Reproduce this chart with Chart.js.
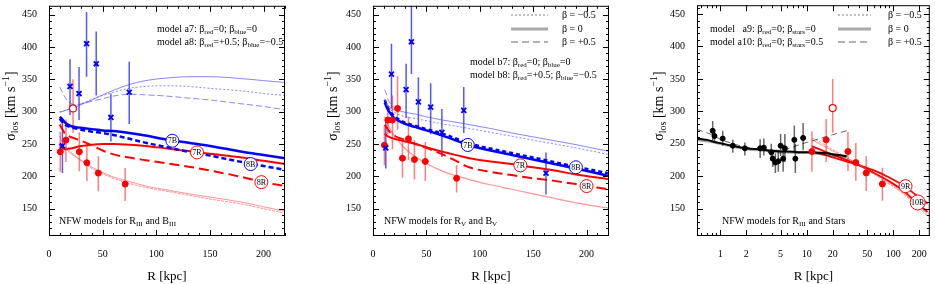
<!DOCTYPE html>
<html>
<head>
<meta charset="utf-8">
<script src="https://cdn.jsdelivr.net/npm/chart.js@4.4.1/dist/chart.umd.min.js"></script>
<style>
  body { margin: 0; background: #fff; }
  #wrap { position: relative; width: 935px; height: 284px; }
  #wrap canvas { position: absolute; left: 0; top: 0; }
</style>
</head>
<body>
<div id="wrap">
  <canvas id="p1" width="935" height="284"></canvas>
  <canvas id="p2" width="935" height="284"></canvas>
  <canvas id="p3" width="935" height="284"></canvas>
</div>
<script>
const FONT = '"Liberation Serif", "DejaVu Serif", serif';

// axes
const Y_MIN = 107.8, Y_MAX = 463.6;
const Y_TICKS = [150, 200, 250, 300, 350, 400, 450];
const X_TICKS_LIN = [0, 50, 100, 150, 200];
const X_TICKS_LOG = [1, 2, 5, 10, 20, 50, 100, 200];

// ---- panel 1: NFW models for R_III and B_III ----
const p1BlueR   = [12.5, 19.6, 28, 35, 44, 57.7, 74.8];
const p1BlueSig = [247, 339, 328, 405, 374, 291, 330];
const p1BlueLo  = [205, 295, 287, 354, 325, 254, 281];
const p1BlueHi  = [285, 381, 369, 454, 424, 328, 377];

const redSig = [238, 256, 238, 221, 205, 188];
const redLo  = [207, 222, 208, 193, 177, 162];
const redHi  = [269, 288, 268, 251, 231, 213];
const p1RedR = [10.5, 15.8, 28.3, 35.3, 46, 71];
const openSig = [305], openLo = [267], openHi = [350];
const p1OpenR = [22.4];

const g1 = [10, 12, 15, 20, 25, 30, 40, 50, 60, 75, 90, 110, 130, 150, 180, 200, 220];
const p1ThinBlueSolid  = [300, 300, 302, 304, 307, 311, 318, 326, 333, 342, 348, 352, 354, 354, 351, 348, 345];
const p1ThinBlueDotted = [299, 300, 302, 305, 308, 312, 319, 325, 330, 336, 339, 340, 339, 336, 332, 328, 325];
const p1ThinBlueDashed = [338, 332, 322, 313, 311, 312, 316, 320, 324, 327, 326, 324, 321, 318, 312, 308, 303];
const p1Model7B = [292, 289, 283, 278, 276, 275, 273, 271, 270, 267, 263, 257, 252, 247, 238, 233, 228];
const p1Model8B = [289, 285, 280, 276, 274, 272, 269, 267, 264, 258, 252, 245, 238, 232, 222, 216, 210];
const p1Model7R = [250, 245, 242, 243, 245, 247, 249, 250, 250, 249, 247, 243, 239, 235, 229, 224, 219];
const p1Model8R = [280, 274, 266, 261, 258, 255, 248, 240, 234, 229, 225, 220, 215, 209, 199, 191, 185];
const p1ThinRedA = [252, 249, 244, 236, 230, 225, 214, 206, 199, 192, 185, 179, 173, 168, 160, 153, 146];
const p1ThinRedB = [262, 255, 247, 238, 231, 224, 212, 204, 197, 189, 183, 177, 171, 165, 157, 150, 143];

// ---- panel 2: NFW models for R_V and B_V ----
const p2BlueR   = [12, 17.3, 31, 36, 42.5, 54, 64.5, 85, 162];
const p2BlueSig = [244, 358, 334, 408, 315, 307, 268, 302, 205];
const p2BlueLo  = [212, 305, 290, 358, 273, 265, 230, 267, 172];
const p2BlueHi  = [290, 405, 374, 470, 353, 344, 304, 338, 237];

const p2RedR   = [10.7, 13.9, 18.2, 23, 27.6, 33.2, 38.8, 49, 78.3];
const p2RedSig = [248, 287, 287, 305, 228, 258, 226, 223, 197];
const p2RedLo  = [217, 265, 242, 272, 198, 225, 195, 193, 175];
const p2RedHi  = [278, 310, 325, 355, 258, 292, 256, 253, 217];

const g2 = [11, 13, 15, 20, 25, 30, 40, 50, 65, 80, 90, 110, 130, 150, 170, 190, 220];
const p2ThinBlueSolid  = [320, 313, 308, 303, 301, 299, 296, 292, 287, 283, 280, 274, 267, 261, 255, 249, 239];
const p2ThinBlueDotted = [318, 310, 305, 299, 295, 292, 289, 286, 281, 277, 274, 268, 262, 256, 250, 244, 234];
const p2ThinBlueDashed = [334, 325, 316, 306, 301, null, null, null, null, null, null, null, null, null, null, null, null];
const p2Model7B = [314, 306, 300, 290, 285, 281, 276, 271, 263, 254, 248, 240, 233, 226, 219, 212, 201];
const p2Model8B = [318, 309, 303, 293, 287, 283, 278, 273, 266, 257, 251, 243, 236, 229, 222, 215, 205];
const p2Model7R = [266, 263, 261, 258, 256, 254, 250, 245, 238, 232, 228, 223, 219, 214, 209, 203, 196];
const p2Model8R = [280, 275, 270, 263, 259, 256, 250, 244, 234, 222, 214, 207, 202, 197, 193, 188, 180];
const p2ThinRed = [292, 284, 276, 263, 252, 243, 230, 220, 208, 200, 195, 187, 180, 173, 166, 159, 151];

// ---- panel 3: NFW models for R_III and Stars ----
const starR   = [0.82, 0.86, 1.07, 1.4, 1.93, 2.9, 3.2, 3.9, 4.05, 4.35, 4.7, 5.0, 5.35, 5.6, 7.2, 7.4, 9.1];
const starSig = [270, 262, 258, 247, 243, 243, 244, 237, 227, 221, 223, 247, 227, 243, 256, 227, 259];
const starLo  = [255, 253, 247, 236, 232, 228, 232, 226, 214, 205, 207, 231, 207, 222, 237, 205, 240];
const starHi  = [285, 268, 270, 256, 252, 257, 258, 250, 241, 235, 240, 265, 248, 265, 278, 250, 282];
const p3RedR  = [11.5, 16.8, 30, 37, 48.8, 75];
const p3OpenR = [20];

const g3 = [0.54, 0.7, 0.8, 1, 1.5, 2, 3, 4, 5, 6, 8, 10, 15, 20, 29];
const p3StarsA9   = [258, 256, 254, 251, 246, 243, 241, 239, 238, 238, 237, 237, 236, 234, 231];
const p3StarsGray = [256, 254, 253, 250, 245, 242, 240, 238, 237, 237, 236, 236, 234, 232, 229];
const p3StarsA10  = [272, 267, 264, 257, 249, 245, 241, 240, 240, 242, 248, 252, 259, 264, 270];
const g3r = [11.5, 15, 20, 30, 40, 60, 90, 130, 180, 250];
const p3Model9R  = [238, 234, 229, 222, 217, 209, 198, 186, 172, 158];
const p3Model10R = [246, 240, 233, 224, 217, 205, 192, 178, 161, 145];
const p3ThinRedA = [256, 248, 239, 227, 218, 204, 190, 175, 158, 142];
const p3ThinRedB = [259, 251, 241, 228, 218, 203, 188, 173, 156, 139];

const BLUE = '#0000ff', THIN_BLUE = 'rgba(70,70,255,0.65)';
const RED = '#ff0000', THIN_RED = 'rgba(255,60,60,0.55)';

function pts(xs, ys) {
  return xs.map((x, i) => ({ x: x, y: ys[i] })).filter(p => p.y != null);
}

function curve(xs, ys, color, width, dash) {
  return {
    data: pts(xs, ys), showLine: true, borderColor: color, borderWidth: width,
    borderDash: dash || [], pointRadius: 0, fill: false,
    cubicInterpolationMode: 'monotone', order: 2
  };
}

function marks(xs, ys, style, color, fill, radius, bw) {
  return {
    data: pts(xs, ys), showLine: false, pointStyle: style, pointRadius: radius,
    pointBorderColor: color, pointBackgroundColor: fill, pointBorderWidth: bw, order: 1
  };
}

// per-panel decorations, read by the plugin below
const PANELS = {
  p1: {
    left: 49, right: 285, xType: 'linear', xMin: 0, xMax: 220, xTicks: X_TICKS_LIN,
    yTitleX: 11,
    errs: [
      { xs: p1BlueR, lo: p1BlueLo, hi: p1BlueHi, color: 'rgba(30,30,255,0.75)' },
      { xs: p1RedR, lo: redLo, hi: redHi, color: 'rgba(255,40,40,0.6)' },
      { xs: p1OpenR, lo: openLo, hi: openHi, color: 'rgba(255,40,40,0.6)' }
    ],
    tags: [
      { t: '7B', x: 115, y: 255, c: BLUE }, { t: '7R', x: 138, y: 237, c: RED },
      { t: '8B', x: 188, y: 219, c: BLUE }, { t: '8R', x: 198, y: 191, c: RED }
    ],
    texts: [
      { x: 157, y: 29, parts: [['model a7: β'], ['red', 1], ['=0; β'], ['blue', 1], ['=0']] },
      { x: 157, y: 42, parts: [['model a8: β'], ['red', 1], ['=+0.5; β'], ['blue', 1], ['=−0.5']] },
      { x: 59, y: 221, parts: [['NFW models for R'], ['III', 1], [' and B'], ['III', 1]] }
    ],
    legend: null
  },
  p2: {
    left: 373, right: 609, xType: 'linear', xMin: 0, xMax: 221, xTicks: X_TICKS_LIN,
    yTitleX: 333,
    errs: [
      { xs: p2BlueR, lo: p2BlueLo, hi: p2BlueHi, color: 'rgba(30,30,255,0.75)' },
      { xs: p2RedR, lo: p2RedLo, hi: p2RedHi, color: 'rgba(255,40,40,0.6)' }
    ],
    tags: [
      { t: '7B', x: 88.8, y: 248.5, c: BLUE }, { t: '7R', x: 138, y: 217, c: RED },
      { t: '8B', x: 190, y: 214, c: BLUE }, { t: '8R', x: 200, y: 185, c: RED }
    ],
    texts: [
      { x: 470, y: 62, parts: [['model b7: β'], ['red', 1], ['=0; β'], ['blue', 1], ['=0']] },
      { x: 470, y: 75.5, parts: [['model b8: β'], ['red', 1], ['=+0.5; β'], ['blue', 1], ['=−0.5']] },
      { x: 384, y: 221, parts: [['NFW models for R'], ['V', 1], [' and B'], ['V', 1]] }
    ],
    legend: { x0: 511, x1: 548, tx: 562 }
  },
  p3: {
    left: 697, right: 934, xType: 'logarithmic', xMin: 0.54, xMax: 265, xTicks: X_TICKS_LOG,
    yTitleX: 659,
    errs: [
      { xs: starR, lo: starLo, hi: starHi, color: 'rgba(0,0,0,0.6)' },
      { xs: p3RedR, lo: redLo, hi: redHi, color: 'rgba(255,40,40,0.6)' },
      { xs: p3OpenR, lo: openLo, hi: openHi, color: 'rgba(255,40,40,0.6)' }
    ],
    tags: [
      { t: '9R', x: 139, y: 184.6, c: RED }, { t: '10R', x: 192, y: 159.5, c: RED }
    ],
    texts: [
      { x: 710, y: 29, parts: [['model']] },
      { x: 742.5, y: 29, parts: [['a9: β'], ['red', 1], ['=0; β'], ['stars', 1], ['=0']] },
      { x: 710, y: 42, parts: [['model']] },
      { x: 737.5, y: 42, parts: [['a10: β'], ['red', 1], ['=0; β'], ['stars', 1], ['=0.5']] },
      { x: 722, y: 221, parts: [['NFW models for R'], ['III', 1], [' and Stars']] }
    ],
    legend: { x0: 838, x1: 871, tx: 888 }
  }
};

PANELS.p1.datasets = [
  curve(g1, p1ThinBlueSolid, THIN_BLUE, 1),
  curve(g1, p1ThinBlueDotted, THIN_BLUE, 1, [2, 2]),
  curve(g1, p1ThinBlueDashed, THIN_BLUE, 1, [6, 3]),
  curve(g1, p1ThinRedA, THIN_RED, 1),
  curve(g1, p1ThinRedB, THIN_RED, 1, [3, 1]),
  curve(g1, p1Model7B, BLUE, 2.5),
  curve(g1, p1Model8B, BLUE, 2.5, [5, 3]),
  curve(g1, p1Model7R, RED, 2),
  curve(g1, p1Model8R, RED, 2, [10, 5]),
  marks(p1BlueR, p1BlueSig, 'crossRot', BLUE, BLUE, 3.5, 1.8),
  marks(p1RedR, redSig, 'circle', RED, RED, 3, 1),
  marks(p1OpenR, openSig, 'circle', RED, '#fff', 3.5, 1.2)
];

PANELS.p2.datasets = [
  curve(g2, p2ThinBlueSolid, THIN_BLUE, 1),
  curve(g2, p2ThinBlueDotted, THIN_BLUE, 1, [2, 2]),
  curve(g2, p2ThinBlueDashed, THIN_BLUE, 1, [6, 3]),
  curve(g2, p2ThinRed, THIN_RED, 1.2),
  curve(g2, p2Model7B, BLUE, 2.5),
  curve(g2, p2Model8B, BLUE, 2.5, [4, 3]),
  curve(g2, p2Model7R, RED, 2),
  curve(g2, p2Model8R, RED, 2, [10, 5]),
  marks(p2BlueR, p2BlueSig, 'crossRot', BLUE, BLUE, 3.5, 1.8),
  marks(p2RedR, p2RedSig, 'circle', RED, RED, 3, 1)
];

PANELS.p3.datasets = [
  curve(g3, p3StarsGray, 'rgba(0,0,0,0.35)', 2.5),
  curve(g3, p3StarsA9, '#000', 2),
  curve(g3, p3StarsA10, 'rgba(0,0,0,0.6)', 1, [6, 4]),
  curve(g3r, p3ThinRedA, THIN_RED, 1),
  curve(g3r, p3ThinRedB, THIN_RED, 1, [3, 1]),
  curve(g3r, p3Model9R, RED, 1.8),
  curve(g3r, p3Model10R, RED, 1.8),
  marks(starR, starSig, 'circle', '#000', '#000', 2.5, 1),
  marks(p3RedR, redSig, 'circle', RED, RED, 3, 1),
  marks(p3OpenR, openSig, 'circle', RED, '#fff', 3.5, 1.2)
];

// text with sub/superscripts: parts = [[text, mode]], mode 1 = sub, 2 = sup
function richText(ctx, parts, x, y, size, align) {
  ctx.textBaseline = 'middle';
  ctx.textAlign = 'left';
  ctx.fillStyle = '#000';
  const sizes = parts.map(p => (p[1] ? Math.round(size * 0.68) : size));
  let total = 0;
  parts.forEach((p, i) => { ctx.font = sizes[i] + 'px ' + FONT; total += ctx.measureText(p[0]).width; });
  let cx = align === 'center' ? x - total / 2 : x;
  parts.forEach((p, i) => {
    ctx.font = sizes[i] + 'px ' + FONT;
    const dy = p[1] === 1 ? size * 0.3 : p[1] === 2 ? -size * 0.35 : 0;
    ctx.fillText(p[0], cx, y + dy);
    cx += ctx.measureText(p[0]).width;
  });
}

function tickValues(p) {
  const minors = [];
  if (p.xType === 'logarithmic') {
    [0.1, 1, 10, 100].forEach(d => {
      for (let m = 1; m <= 9; m++) {
        const v = d * m;
        if (v >= p.xMin && v <= p.xMax) minors.push(v);
      }
    });
  } else {
    for (let v = 0; v <= p.xMax; v += 10) minors.push(v);
  }
  const yMinors = [];
  for (let v = 110; v <= 460; v += 10) yMinors.push(v);
  return { xMinors: minors, yMinors: yMinors };
}

const panelPlugin = {
  id: 'panelDeco',
  beforeDatasetsDraw(chart) {
    const p = PANELS[chart.canvas.id];
    const ctx = chart.ctx, a = chart.chartArea;
    const xs = chart.scales.x, ys = chart.scales.y;
    ctx.save();
    ctx.beginPath();
    ctx.rect(a.left, a.top, a.right - a.left, a.bottom - a.top);
    ctx.clip();
    ctx.lineWidth = 1.5;
    p.errs.forEach(e => {
      ctx.strokeStyle = e.color;
      e.xs.forEach((x, i) => {
        const px = xs.getPixelForValue(x);
        ctx.beginPath();
        ctx.moveTo(px, ys.getPixelForValue(e.lo[i]));
        ctx.lineTo(px, ys.getPixelForValue(e.hi[i]));
        ctx.stroke();
      });
    });
    ctx.restore();
  },
  afterDatasetsDraw(chart) {
    const p = PANELS[chart.canvas.id];
    const ctx = chart.ctx;
    const xs = chart.scales.x, ys = chart.scales.y;
    ctx.save();
    p.tags.forEach(t => {
      const px = xs.getPixelForValue(t.x), py = ys.getPixelForValue(t.y);
      const r = t.t.length > 2 ? 7.5 : 6.5;
      ctx.beginPath();
      ctx.arc(px, py, r, 0, Math.PI * 2);
      ctx.fillStyle = '#fff';
      ctx.fill();
      ctx.lineWidth = 1;
      ctx.strokeStyle = t.c;
      ctx.stroke();
      ctx.fillStyle = '#000';
      ctx.font = '8px ' + FONT;
      ctx.textAlign = 'center';
      ctx.textBaseline = 'middle';
      ctx.fillText(t.t, px, py + 0.5);
    });
    ctx.restore();
  },
  afterDraw(chart) {
    const p = PANELS[chart.canvas.id];
    const ctx = chart.ctx, a = chart.chartArea;
    const xs = chart.scales.x, ys = chart.scales.y;
    const tv = tickValues(p);
    ctx.save();
    // frame
    ctx.strokeStyle = '#000';
    ctx.lineWidth = 1;
    ctx.strokeRect(a.left + 0.5, a.top + 0.5, a.right - a.left - 1, a.bottom - a.top - 1);
    // inward ticks on all four sides
    ctx.beginPath();
    tv.xMinors.forEach(v => {
      const px = Math.round(xs.getPixelForValue(v)) + 0.5;
      const len = p.xTicks.indexOf(v) >= 0 ? 6 : 3;
      ctx.moveTo(px, a.bottom); ctx.lineTo(px, a.bottom - len);
      ctx.moveTo(px, a.top); ctx.lineTo(px, a.top + len);
    });
    tv.yMinors.forEach(v => {
      const py = Math.round(ys.getPixelForValue(v)) + 0.5;
      const len = Y_TICKS.indexOf(v) >= 0 ? 6 : 3;
      ctx.moveTo(a.left, py); ctx.lineTo(a.left + len, py);
      ctx.moveTo(a.right, py); ctx.lineTo(a.right - len, py);
    });
    ctx.stroke();

    // annotations
    p.texts.forEach(t => richText(ctx, t.parts, t.x, t.y, 10, 'left'));

    // line-style key
    if (p.legend) {
      const L = p.legend;
      const rows = [
        { y: 15, dash: [2, 2], w: 1.3, c: '#aaa', parts: [['β = −0.5']] },
        { y: 29, dash: [], w: 3, c: '#aaa', parts: [['β = 0']] },
        { y: 42, dash: [7, 4], w: 1, c: '#666', parts: [['β = +0.5']] }
      ];
      rows.forEach(r => {
        ctx.beginPath();
        ctx.setLineDash(r.dash);
        ctx.lineWidth = r.w;
        ctx.strokeStyle = r.c;
        ctx.moveTo(L.x0, r.y);
        ctx.lineTo(L.x1, r.y);
        ctx.stroke();
        ctx.setLineDash([]);
        richText(ctx, r.parts, L.tx, r.y, 10, 'left');
      });
    }

    // y axis title
    ctx.translate(p.yTitleX, 106);
    ctx.rotate(-Math.PI / 2);
    richText(ctx, [['σ'], ['los', 1], [' [km s'], ['−1', 2], [']']], 0, 0, 14, 'center');
    ctx.restore();
  }
};

function makePanel(id) {
  const p = PANELS[id];
  const tickFont = { family: FONT, size: 10 };
  return new Chart(document.getElementById(id), {
    type: 'scatter',
    data: { datasets: p.datasets },
    options: {
      responsive: false,
      animation: false,
      events: [],
      layout: { padding: { left: p.left - 40, right: 935 - p.right, top: 0, bottom: 0 } },
      plugins: { legend: { display: false }, tooltip: { enabled: false } },
      scales: {
        x: {
          type: p.xType, min: p.xMin, max: p.xMax,
          afterFit: s => { s.height = 48; s.paddingLeft = 0; s.paddingRight = 0; },
          afterBuildTicks: s => { s.ticks = p.xTicks.map(v => ({ value: v })); },
          ticks: { font: tickFont, color: '#000', padding: 12, autoSkip: false, maxRotation: 0, callback: v => String(v) },
          grid: { display: false, drawTicks: false },
          border: { display: false },
          title: { display: true, text: 'R [kpc]', font: { family: FONT, size: 13 }, color: '#000', padding: 0 }
        },
        y: {
          min: Y_MIN, max: Y_MAX,
          afterFit: s => { s.width = 40; s.paddingTop = 0; s.paddingBottom = 0; },
          afterBuildTicks: s => { s.ticks = Y_TICKS.map(v => ({ value: v })); },
          ticks: { font: tickFont, color: '#000', padding: 12 },
          grid: { display: false, drawTicks: false },
          border: { display: false }
        }
      }
    },
    plugins: [panelPlugin]
  });
}

makePanel('p1');
makePanel('p2');
makePanel('p3');
</script>
</body>
</html>
